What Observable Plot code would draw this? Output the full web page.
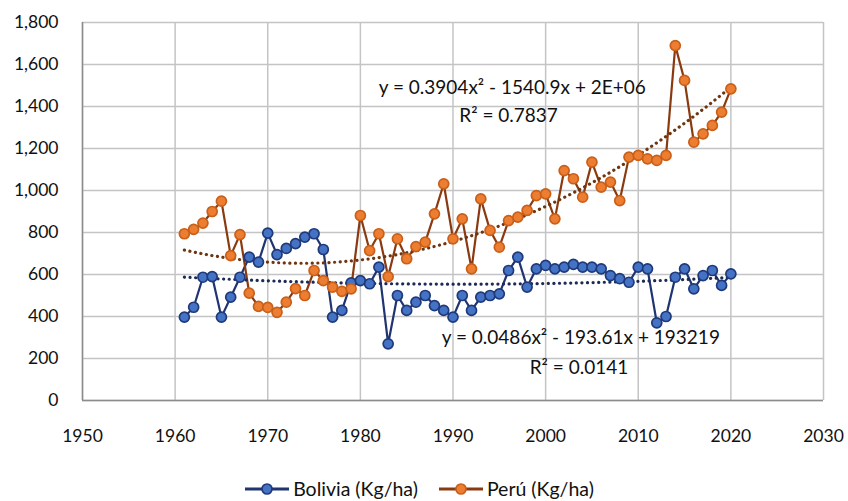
<!DOCTYPE html>
<html>
<head>
<meta charset="utf-8">
<script src="https://cdn.jsdelivr.net/npm/d3@7"></script>
<script src="https://cdn.jsdelivr.net/npm/@observablehq/plot@0.6"></script>
<style>
  html, body { margin: 0; padding: 0; background: #fff; }
  body { width: 848px; height: 501px; overflow: hidden; font-family: Lato, "Open Sans", sans-serif; }
  #legend { display: flex; justify-content: center; align-items: center; gap: 20px; font-size: 19.5px; color: #111; height: 41px; margin-top: 8px; margin-left: -10px; }
  .item { display: flex; align-items: center; gap: 3px; }
</style>
</head>
<body>
<div id="chart"></div>
<div id="legend"></div>
<script>
const years = [1961,1962,1963,1964,1965,1966,1967,1968,1969,1970,
  1971,1972,1973,1974,1975,1976,1977,1978,1979,1980,
  1981,1982,1983,1984,1985,1986,1987,1988,1989,1990,
  1991,1992,1993,1994,1995,1996,1997,1998,1999,2000,
  2001,2002,2003,2004,2005,2006,2007,2008,2009,2010,
  2011,2012,2013,2014,2015,2016,2017,2018,2019,2020];
const bolivia = [397,444,587,590,397,492,587,683,659,797,
  695,724,747,778,794,719,397,429,560,571,
  556,635,270,500,429,468,500,452,429,397,
  500,429,492,500,508,619,683,540,627,643,
  627,635,648,635,635,627,595,580,563,635,
  627,370,400,587,627,532,595,619,548,603];
const peru = [794,815,845,900,949,690,790,511,448,443,
  420,468,533,500,619,571,540,520,532,881,
  714,794,590,770,675,733,754,889,1032,770,
  865,627,960,810,730,857,873,905,976,984,
  865,1095,1056,968,1135,1016,1040,952,1159,1167,
  1151,1143,1167,1690,1524,1230,1270,1310,1373,1484];
const seriesNames = ["Bolivia (Kg/ha)", "Perú (Kg/ha)"];
const xTicks = [1950,1960,1970,1980,1990,2000,2010,2020,2030];
const yTicks = [0,200,400,600,800,1000,1200,1400,1600,1800];
const annotations = [
  {x: 1996.4, y: 1490, text: "y = 0.3904x² - 1540.9x + 2E+06"},
  {x: 1996.0, y: 1357, text: "R² = 0.7837"},
  {x: 2003.8, y: 300, text: "y = 0.0486x² - 193.61x + 193219"},
  {x: 2003.6, y: 157, text: "R² = 0.0141"}
];

const colors = {
  bolLine: "#1f3470", bolFill: "#4472c4", bolEdge: "#1f3a7a", bolTrend: "#1c2a55",
  peLine: "#8a3a10", peFill: "#ed7d31", peEdge: "#c9601a", peTrend: "#6e3510"
};

// quadratic least-squares fit (as the chart's polynomial trendline)
function quadFit(xs, ys) {
  const x0 = d3.mean(xs);
  let S = [[0,0,0],[0,0,0],[0,0,0]], B = [0,0,0];
  xs.forEach((xv, i) => {
    const t = xv - x0, p = [1, t, t*t];
    for (let a = 0; a < 3; a++) { B[a] += p[a]*ys[i]; for (let b = 0; b < 3; b++) S[a][b] += p[a]*p[b]; }
  });
  const M = S.map((r, i) => [...r, B[i]]);
  for (let c = 0; c < 3; c++) {
    let piv = c;
    for (let r = c+1; r < 3; r++) if (Math.abs(M[r][c]) > Math.abs(M[piv][c])) piv = r;
    [M[c], M[piv]] = [M[piv], M[c]];
    for (let r = 0; r < 3; r++) if (r !== c) {
      const f = M[r][c] / M[c][c];
      for (let k = c; k < 4; k++) M[r][k] -= f*M[c][k];
    }
  }
  const co = M.map((r, i) => r[3] / r[i]);
  return xv => { const t = xv - x0; return co[0] + co[1]*t + co[2]*t*t; };
}

const bolData = years.map((y, i) => ({year: y, v: bolivia[i]}));
const peData = years.map((y, i) => ({year: y, v: peru[i]}));
const fB = quadFit(years, bolivia), fP = quadFit(years, peru);
const bolTrend = years.map(y => ({year: y, v: fB(y)}));
const peTrend = years.map(y => ({year: y, v: fP(y)}));

const gridStyle = {stroke: "#c4c4c4", strokeOpacity: 1, strokeWidth: 1.5};

const chart = Plot.plot({
  width: 848,
  height: 460,
  marginLeft: 82,
  marginRight: 25,
  marginTop: 22,
  marginBottom: 60,
  style: {fontFamily: "Lato, 'Open Sans', sans-serif", background: "#fff", color: "#111"},
  x: {domain: [1950, 2030]},
  y: {domain: [0, 1800]},
  marks: [
    Plot.gridX(xTicks, gridStyle),
    Plot.gridY(yTicks, gridStyle),
    Plot.ruleX([1950], {stroke: "#8c8c8c", strokeWidth: 1.5}),
    Plot.ruleY([0], {stroke: "#8c8c8c", strokeWidth: 1.5}),
    Plot.axisX({ticks: xTicks, tickFormat: "d", tickSize: 0, tickPadding: 29, fontSize: 17.5, label: null}),
    Plot.axisY({ticks: yTicks, tickFormat: d3.format(","), tickSize: 0, tickPadding: 24, fontSize: 17.5, label: null}),
    Plot.line(bolData, {x: "year", y: "v", stroke: colors.bolLine, strokeWidth: 2.2}),
    Plot.line(peData, {x: "year", y: "v", stroke: colors.peLine, strokeWidth: 2.2}),
    Plot.line(bolTrend, {x: "year", y: "v", stroke: colors.bolTrend, strokeWidth: 3.2, strokeDasharray: "0.1,5.5", strokeLinecap: "round", curve: "natural"}),
    Plot.line(peTrend, {x: "year", y: "v", stroke: colors.peTrend, strokeWidth: 3.2, strokeDasharray: "0.1,5.5", strokeLinecap: "round", curve: "natural"}),
    Plot.dot(bolData, {x: "year", y: "v", r: 5, fill: colors.bolFill, stroke: colors.bolEdge, strokeWidth: 1.7}),
    Plot.dot(peData, {x: "year", y: "v", r: 5, fill: colors.peFill, stroke: colors.peEdge, strokeWidth: 1.7}),
    Plot.text(annotations, {x: "x", y: "y", text: "text", fontSize: 19, fill: "#111"})
  ]
});
document.getElementById("chart").appendChild(chart);

// legend
const legend = d3.select("#legend");
const lineCols = [colors.bolLine, colors.peLine], fillCols = [colors.bolFill, colors.peFill], edgeCols = [colors.bolEdge, colors.peEdge];
seriesNames.forEach((name, i) => {
  const item = legend.append("div").attr("class", "item");
  const sw = item.append("svg").attr("width", 46).attr("height", 14);
  sw.append("line").attr("x1", 1).attr("x2", 45).attr("y1", 7).attr("y2", 7).attr("stroke", lineCols[i]).attr("stroke-width", 2.8);
  sw.append("circle").attr("cx", 23).attr("cy", 7).attr("r", 5).attr("fill", fillCols[i]).attr("stroke", edgeCols[i]).attr("stroke-width", 1.7);
  item.append("span").text(name);
});
</script>
</body>
</html>
